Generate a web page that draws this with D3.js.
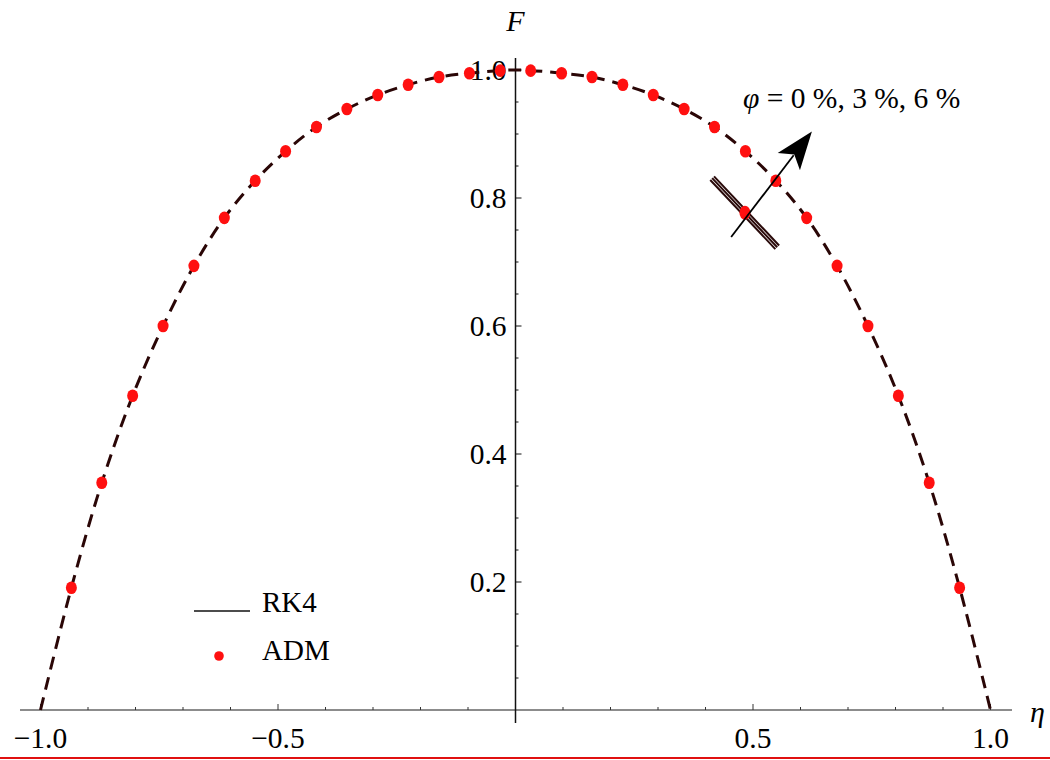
<!DOCTYPE html>
<html>
<head>
<meta charset="utf-8">
<title>F vs eta</title>
<style>
  body { margin: 0; background: #fff; }
  text { font-family: "Liberation Serif", "Times New Roman", Times, serif; fill: #000; }
</style>
</head>
<body>
<svg width="1050" height="760"></svg>
<script src="https://d3js.org/d3.v7.min.js"></script>
<script>

    // ADM points (eta, F)
    var admEta = [-0.935, -0.871, -0.806, -0.742, -0.677, -0.613, -0.548, -0.484, -0.419, -0.355, -0.290, -0.226, -0.161, -0.097, -0.032,
                   0.032,  0.097,  0.161,  0.226,  0.290,  0.355,  0.419,  0.484,  0.548,  0.613,  0.677,  0.742,  0.806,  0.871,  0.935];
    var admF   = [0.191, 0.355, 0.491, 0.600, 0.694, 0.769, 0.827, 0.873, 0.911, 0.939, 0.961, 0.977, 0.989, 0.995, 0.999,
                  0.999, 0.995, 0.989, 0.977, 0.961, 0.939, 0.911, 0.873, 0.827, 0.769, 0.694, 0.600, 0.491, 0.355, 0.191];

    // RK4 curve (eta, F)
    var rkEta = [-1.0, -0.935, -0.871, -0.806, -0.742, -0.677, -0.613, -0.548, -0.484, -0.419, -0.355, -0.290, -0.226, -0.161, -0.097, 0.0,
                  0.097, 0.161, 0.226, 0.290, 0.355, 0.419, 0.484, 0.548, 0.613, 0.677, 0.742, 0.806, 0.871, 0.935, 1.0];
    var rkF   = [0.0, 0.191, 0.355, 0.491, 0.600, 0.694, 0.769, 0.827, 0.873, 0.911, 0.939, 0.961, 0.977, 0.989, 0.995, 1.0,
                 0.995, 0.989, 0.977, 0.961, 0.939, 0.911, 0.873, 0.827, 0.769, 0.694, 0.600, 0.491, 0.355, 0.191, 0.0];

    var xMajor = [-1.0, -0.5, 0.5, 1.0];
    var xLabels = ["\u22121.0", "\u22120.5", "0.5", "1.0"];
    var yMajor = [0.2, 0.4, 0.6, 0.8, 1.0];
    var yLabels = ["0.2", "0.4", "0.6", "0.8", "1.0"];

    // annotation (data coords): magnified bundle of the three curves, arrow, label
    var bundleEta = [0.414, 0.551], bundleF = [0.831, 0.723];
    var bundleDot = [0.483, 0.777];
    var arrowEta = [0.454, 0.624], arrowF = [0.739, 0.904];
    var phiLabel = "= 0 %, 3 %, 6 %";

    var svg = d3.select("svg");

    var x = d3.scaleLinear().domain([-1, 1]).range([40.5, 990.5]);
    var y = d3.scaleLinear().domain([0, 1]).range([710, 70]);

    // bottom red rule
    svg.append("line")
        .attr("x1", 0).attr("x2", 1050).attr("y1", 758).attr("y2", 758)
        .attr("stroke", "#e01010").attr("stroke-width", 2);

    // x axis
    var xAxis = svg.append("g");
    xAxis.append("line")
        .attr("x1", 20).attr("x2", 1012).attr("y1", y(0)).attr("y2", y(0))
        .attr("stroke", "#666").attr("stroke-width", 1.6);
    xAxis.selectAll(".minor")
        .data(d3.range(-10, 11).filter(function (i) { return i !== 0 && i % 5 !== 0; }))
        .enter().append("line")
        .attr("x1", function (i) { return x(i / 10); })
        .attr("x2", function (i) { return x(i / 10); })
        .attr("y1", y(0)).attr("y2", y(0) - 3)
        .attr("stroke", "#333").attr("stroke-width", 1);
    xAxis.selectAll(".major")
        .data(xMajor).enter().append("line")
        .attr("x1", function (d) { return x(d); })
        .attr("x2", function (d) { return x(d); })
        .attr("y1", y(0)).attr("y2", y(0) - 6)
        .attr("stroke", "#333").attr("stroke-width", 1);
    xAxis.selectAll("text")
        .data(xMajor).enter().append("text")
        .attr("x", function (d) { return x(d); })
        .attr("y", 748)
        .attr("text-anchor", "middle")
        .attr("font-size", 29.5)
        .text(function (d, i) { return xLabels[i]; });

    // y axis
    var yAxis = svg.append("g");
    yAxis.append("line")
        .attr("x1", x(0)).attr("x2", x(0)).attr("y1", 58).attr("y2", 723)
        .attr("stroke", "#111").attr("stroke-width", 1.5);
    yAxis.selectAll(".minor")
        .data(d3.range(1, 21).filter(function (i) { return i % 4 !== 0; }))
        .enter().append("line")
        .attr("x1", x(0)).attr("x2", x(0) + 3)
        .attr("y1", function (i) { return y(i / 20); })
        .attr("y2", function (i) { return y(i / 20); })
        .attr("stroke", "#111").attr("stroke-width", 1);
    yAxis.selectAll(".major")
        .data(yMajor).enter().append("line")
        .attr("x1", x(0)).attr("x2", x(0) + 6)
        .attr("y1", function (d) { return y(d); })
        .attr("y2", function (d) { return y(d); })
        .attr("stroke", "#111").attr("stroke-width", 1);

    // RK4 curve (dashed)
    var line = d3.line()
        .x(function (d) { return x(d[0]); })
        .y(function (d) { return y(d[1]); })
        .curve(d3.curveCatmullRom.alpha(0.5));

    svg.append("path")
        .datum(d3.zip(rkEta, rkF))
        .attr("fill", "none")
        .attr("stroke", "#2a0606")
        .attr("stroke-width", 3)
        .attr("stroke-dasharray", "13,8")
        .attr("d", line);

    // ADM dots
    svg.selectAll(".adm")
        .data(d3.zip(admEta, admF)).enter().append("ellipse")
        .attr("cx", function (d) { return x(d[0]); })
        .attr("cy", function (d) { return y(d[1]); })
        .attr("rx", 5.5).attr("ry", 6.3)
        .attr("fill", "#ff1010");

    yAxis.selectAll("text")
        .data(yMajor).enter().append("text")
        .attr("x", x(0) - 9)
        .attr("y", function (d) { return y(d) + 10; })
        .attr("text-anchor", "end")
        .attr("font-size", 29.5)
        .text(function (d, i) { return yLabels[i]; });

    // axis names
    svg.append("text").attr("x", x(0)).attr("y", 31)
        .attr("text-anchor", "middle").attr("font-size", 30)
        .attr("font-style", "italic").text("F");
    svg.append("text").attr("x", 1030).attr("y", 722)
        .attr("font-size", 30).attr("font-style", "italic").text("\u03B7");

    // magnified bundle: three nearly coincident curves
    [-2.6, 0, 2.6].forEach(function (off) {
        var dx = x(bundleEta[1]) - x(bundleEta[0]), dy = y(bundleF[1]) - y(bundleF[0]);
        var len = Math.sqrt(dx * dx + dy * dy), nx = -dy / len * off, ny = dx / len * off;
        svg.append("line")
            .attr("x1", x(bundleEta[0]) + nx).attr("y1", y(bundleF[0]) + ny)
            .attr("x2", x(bundleEta[1]) + nx).attr("y2", y(bundleF[1]) + ny)
            .attr("stroke", "#2a0a0a").attr("stroke-width", 2);
    });
    svg.append("ellipse")
        .attr("cx", x(bundleDot[0])).attr("cy", y(bundleDot[1]))
        .attr("rx", 5.5).attr("ry", 7).attr("fill", "#ff1010");

    // arrow
    var ax0 = x(arrowEta[0]), ay0 = y(arrowF[0]), ax1 = x(arrowEta[1]), ay1 = y(arrowF[1]);
    var adx = ax1 - ax0, ady = ay1 - ay0, alen = Math.sqrt(adx * adx + ady * ady);
    var ux = adx / alen, uy = ady / alen, headL = 38, headW = 14;
    var bx = ax1 - ux * headL, by = ay1 - uy * headL;
    svg.append("line")
        .attr("x1", ax0).attr("y1", ay0).attr("x2", bx + ux * 8).attr("y2", by + uy * 8)
        .attr("stroke", "#000").attr("stroke-width", 1.8);
    svg.append("path")
        .attr("d", "M" + ax1 + "," + ay1 +
            "L" + (bx - uy * headW) + "," + (by + ux * headW) +
            "L" + (bx + ux * 9) + "," + (by + uy * 9) +
            "L" + (bx + uy * headW) + "," + (by - ux * headW) + "Z")
        .attr("fill", "#000");

    var phi = svg.append("text").attr("x", 743).attr("y", 108).attr("font-size", 29.5);
    phi.append("tspan").attr("font-style", "italic").text("\u03C6 ");
    phi.append("tspan").text(phiLabel);

    // legend
    var legend = svg.append("g");
    legend.append("line")
        .attr("x1", 194).attr("x2", 250).attr("y1", 611).attr("y2", 611)
        .attr("stroke", "#111").attr("stroke-width", 1.6);
    legend.append("text").attr("x", 262).attr("y", 612).attr("font-size", 29).text("RK4");
    legend.append("circle").attr("cx", 219).attr("cy", 656).attr("r", 4.8).attr("fill", "#ff1010");
    legend.append("text").attr("x", 262).attr("y", 660).attr("font-size", 29).text("ADM");

</script>
</body>
</html>
